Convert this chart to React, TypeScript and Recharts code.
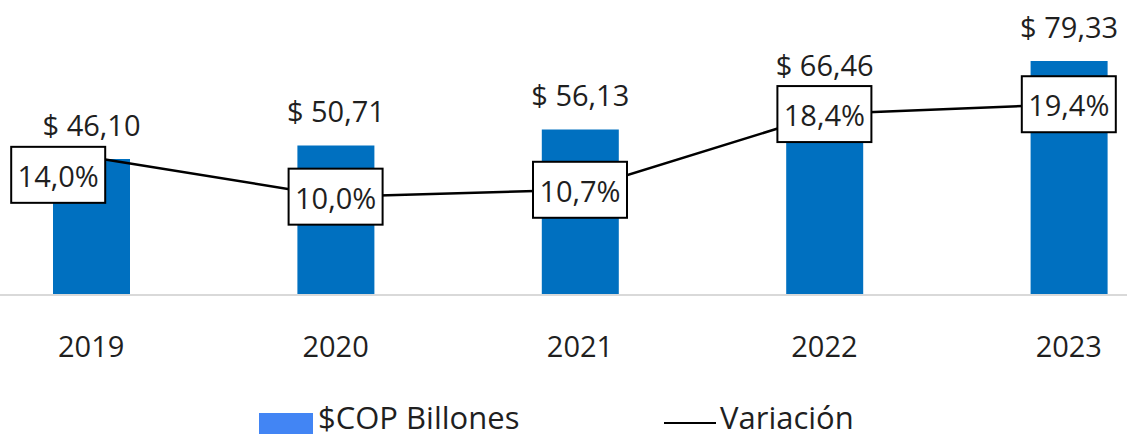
import React from "react";
import { ComposedChart, Bar, Line, XAxis, YAxis, Legend, LabelList } from "recharts";

const years = ["2019", "2020", "2021", "2022", "2023"];
const billones = [46.1, 50.71, 56.13, 66.46, 79.33];
const variacion = [14.0, 10.0, 10.7, 18.4, 19.4];

const data = years.map((y, i) => ({ year: y, billones: billones[i], variacion: variacion[i] }));

const FONT = "'Open Sans', Roboto, sans-serif";
const BAR_COLOR = "#0070C0";
const LEGEND_BAR = "#4285F4";
const TEXT = "#1f1f1f";

const fmtMoney = (v: number) => "$ " + v.toFixed(2).replace(".", ",");
const fmtPct = (v: number) => v.toFixed(1).replace(".", ",") + "%";

const BarLabel = (props: any) => {
  const { x, y, width, value } = props;
  return (
    <text x={x + width / 2} y={y - 23} textAnchor="middle" fontFamily={FONT} fontSize={29} fill={TEXT}>
      {fmtMoney(value)}
    </text>
  );
};

const LineLabel = (props: any) => {
  const { x, y, value, index } = props;
  const cx = index === 0 ? x - 33 : x;
  const cy = index === 0 ? y + 17.5 : y;
  const w = 94;
  const h = 56;
  return (
    <g>
      <rect x={cx - w / 2} y={cy - h / 2} width={w} height={h} fill="#fff" stroke="#000" strokeWidth={2} />
      <text x={cx} y={cy + 12} textAnchor="middle" fontFamily={FONT} fontSize={29} fill={TEXT}>
        {fmtPct(value)}
      </text>
    </g>
  );
};

const Tick = (props: any) => {
  const { x, y, payload } = props;
  return (
    <text x={x} y={y + 62} textAnchor="middle" fontFamily={FONT} fontSize={29} fill={TEXT}>
      {payload.value}
    </text>
  );
};

const LegendContent = () => (
  <svg width={1240} height={50} style={{ display: "block" }}>
    <rect x={299} y={25} width={54} height={21} fill={LEGEND_BAR} />
    <text x={358} y={41} fontFamily={FONT} fontSize={31} fill={TEXT}>
      $COP Billones
    </text>
    <line x1={704} x2={756} y1={35} y2={35} stroke="#000" strokeWidth={2} />
    <text x={760} y={41} fontFamily={FONT} fontSize={31} fill={TEXT}>
      Variación
    </text>
  </svg>
);

export default function App() {
  return (
    <div style={{ position: "absolute", left: 0, top: 0, width: 1127, height: 438, overflow: "hidden", background: "#fff" }}>
      <div style={{ position: "absolute", left: -40, top: 0 }}>
        <ComposedChart width={1240} height={438} data={data} margin={{ top: 0, left: 9, right: 9, bottom: 0 }}>
          <XAxis
            dataKey="year"
            height={93}
            tickLine={false}
            tickSize={0}
            tickMargin={0}
            axisLine={{ stroke: "#D9D9D9", strokeWidth: 2 }}
            tick={<Tick />}
            interval={0}
          />
          <YAxis yAxisId="left" hide domain={[0, 100]} />
          <YAxis yAxisId="right" orientation="right" hide domain={[0, 30]} />
          <Legend
            verticalAlign="bottom"
            height={50}
            content={<LegendContent />}
            wrapperStyle={{ left: 0, bottom: 0, width: 1240, height: 50 }}
          />
          <Bar yAxisId="left" dataKey="billones" name="$COP Billones" fill={BAR_COLOR} barSize={77} isAnimationActive={false}>
            <LabelList dataKey="billones" content={<BarLabel />} />
          </Bar>
          <Line
            yAxisId="right"
            dataKey="variacion"
            name="Variación"
            stroke="#000"
            strokeWidth={2.5}
            dot={false}
            activeDot={false}
            isAnimationActive={false}
          >
            <LabelList dataKey="variacion" content={<LineLabel />} />
          </Line>
        </ComposedChart>
      </div>
    </div>
  );
}
